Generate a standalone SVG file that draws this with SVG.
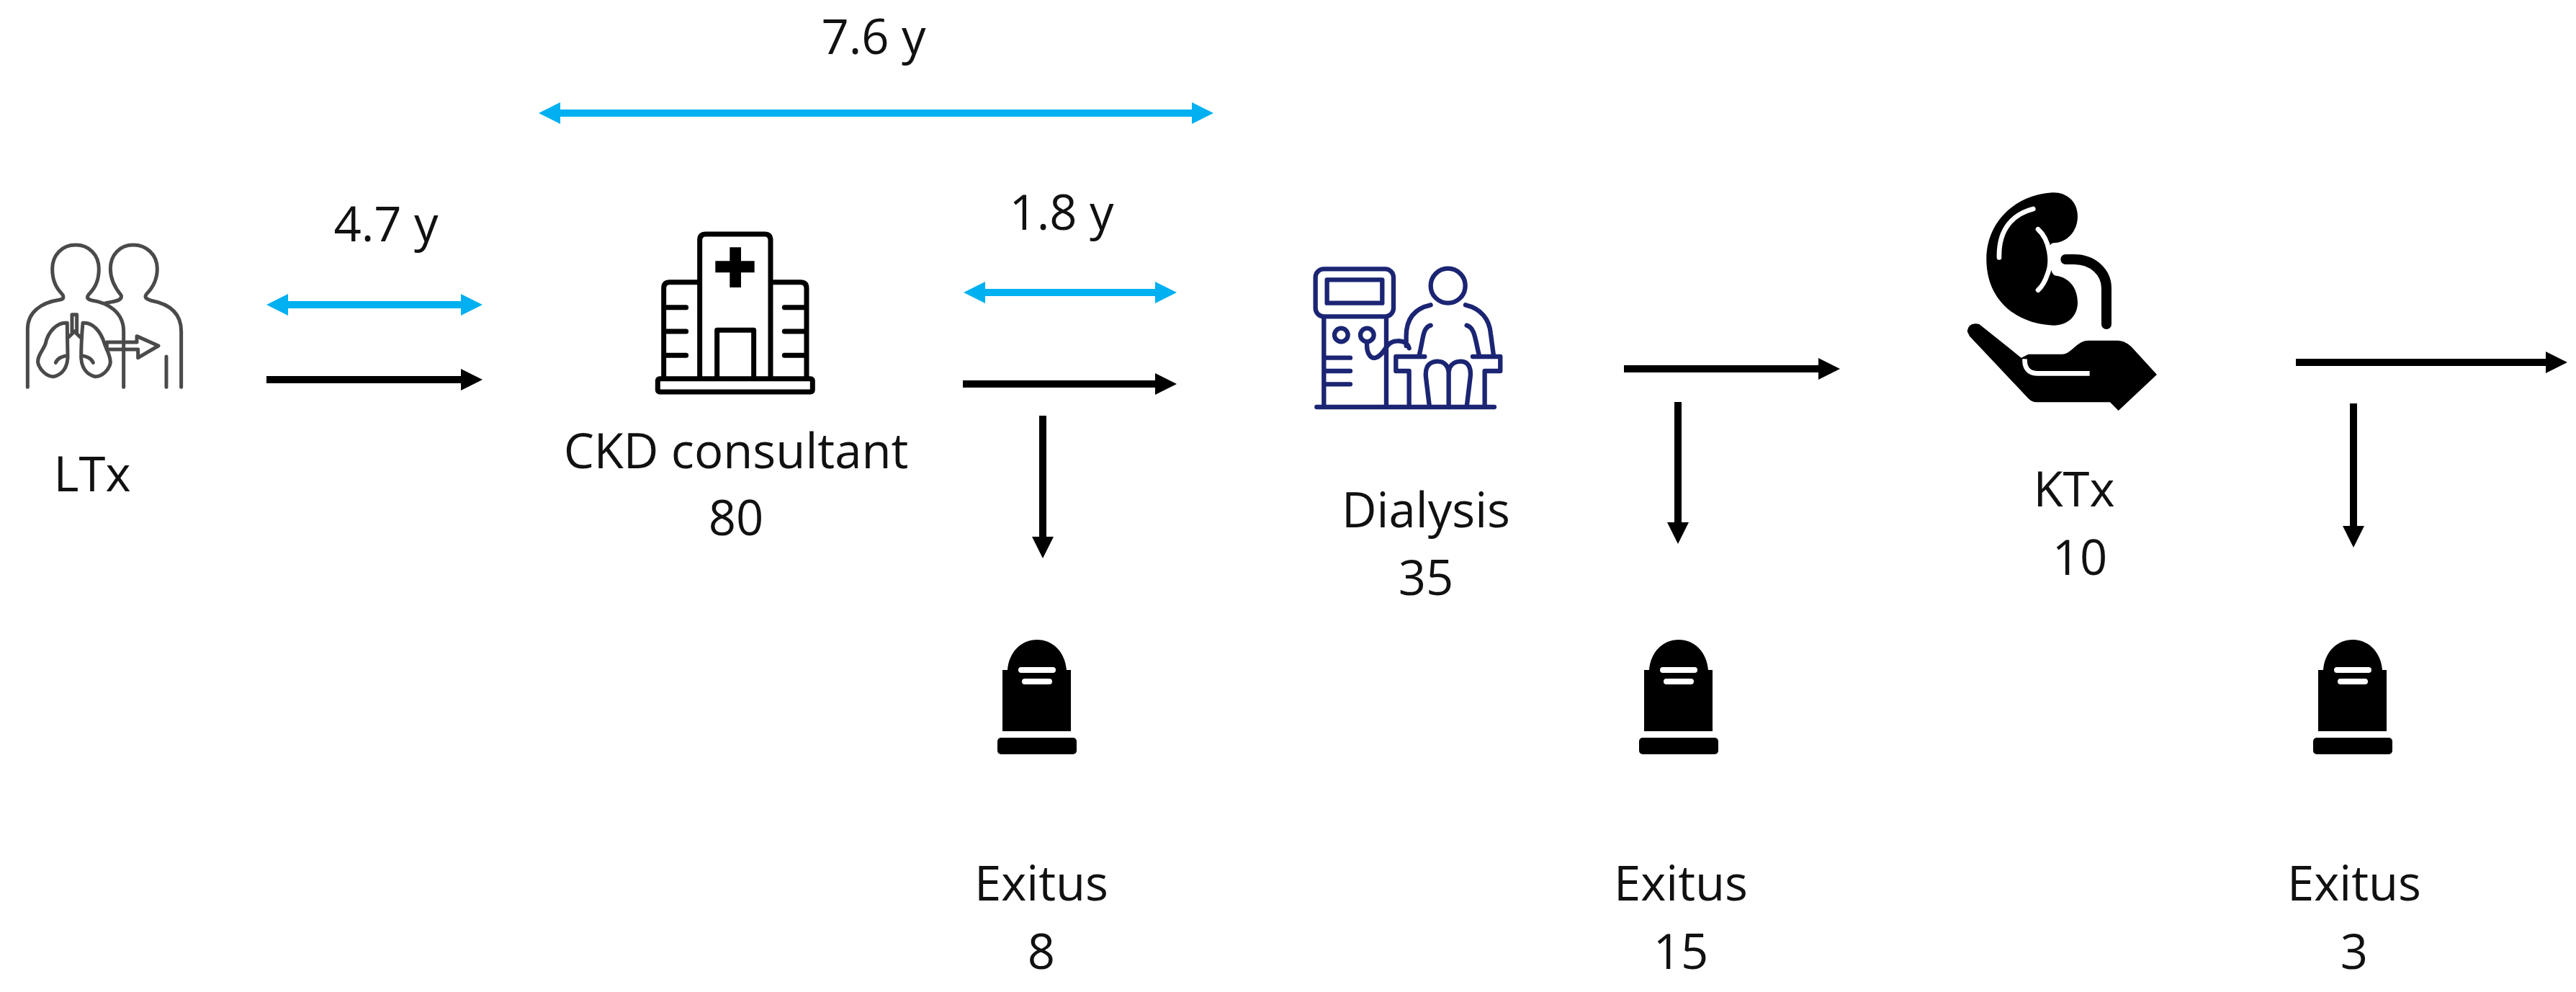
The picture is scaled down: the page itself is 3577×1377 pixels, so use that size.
<svg xmlns="http://www.w3.org/2000/svg" width="3577" height="1377" viewBox="0 0 3577 1377">
<style>
text{font-family:"Open Sans","Noto Sans",sans-serif;font-size:67px;fill:#111;text-anchor:middle}
.blk{stroke:#000;stroke-width:10;fill:none}
.blu{stroke:#00b0f0;stroke-width:10;fill:none}
.o1{fill:none;stroke:#4a4a4a;stroke-width:15;stroke-linecap:round;stroke-linejoin:round}
.o2{fill:none;stroke:#000;stroke-width:21;stroke-linejoin:round;stroke-linecap:round}
.o3{fill:none;stroke:#1b2573;stroke-width:19;stroke-linecap:round;stroke-linejoin:round}
.w{fill:none;stroke:#fff;stroke-linecap:round}
</style>
<defs>
<marker id="hb" markerUnits="userSpaceOnUse" markerWidth="32" markerHeight="32" refX="2" refY="15" orient="auto"><path d="M0 0L30 15L0 30Z" fill="#000"/></marker>
<marker id="hc" markerUnits="userSpaceOnUse" markerWidth="32" markerHeight="32" refX="2" refY="15" orient="auto-start-reverse"><path d="M0 0L30 15L0 30Z" fill="#00b0f0"/></marker>
<g id="tomb"><path d="M1399 930C1401 905 1418 888 1440 888C1462 888 1479 905 1481 930H1487V1015H1392V930Z" fill="#000"/><rect x="1385" y="1024" width="110" height="23" rx="5" fill="#000"/><path class="w" d="M1418 930H1462" stroke-width="8"/><path class="w" d="M1423 946H1457" stroke-width="8"/></g>
</defs>
<rect width="3577" height="1377" fill="#fff"/>
<g id="connectors">
<path class="blu" d="M776 157H1657" marker-start="url(#hc)" marker-end="url(#hc)"/>
<path class="blu" d="M398 423H642" marker-start="url(#hc)" marker-end="url(#hc)"/>
<path class="blu" d="M1366 406H1606" marker-start="url(#hc)" marker-end="url(#hc)"/>
<path class="blk" d="M370 527H642" marker-end="url(#hb)"/>
<path class="blk" d="M1337 533H1606" marker-end="url(#hb)"/>
<path class="blk" d="M2255 512H2527" marker-end="url(#hb)"/>
<path class="blk" d="M3188 503H3537" marker-end="url(#hb)"/>
<path class="blk" d="M1448 577V747" marker-end="url(#hb)"/>
<path class="blk" d="M2330 558V727" marker-end="url(#hb)"/>
<path class="blk" d="M3268 560V732" marker-end="url(#hb)"/>
</g>
<g id="ltx">
<g transform="translate(0 300) scale(.3333)">
<path class="o1" d="M115 712V470C115 400 170 360 250 348C270 345 265 330 255 320C230 295 218 260 218 220C218 160 260 120 315 120C370 120 412 160 412 220C412 260 400 295 375 320C360 335 360 345 380 350C450 360 515 400 515 480V712"/>
<path class="o1" d="M440 362C470 355 510 355 505 330C480 300 460 265 460 220C460 160 500 120 555 120C610 120 655 160 655 220C655 265 635 300 610 325C600 340 610 345 630 352C700 365 755 400 755 480V712M693 585V712"/>
<path class="o1" d="M280 445C240 440 200 480 190 530C180 560 155 580 158 610C165 640 195 670 225 668C260 660 280 630 282 590C282 560 280 500 280 445ZM232 610C240 590 260 585 280 580M345 445C385 440 420 480 435 530C445 560 460 580 460 610C455 640 425 670 395 668C360 660 340 630 338 590C338 560 340 500 345 445ZM388 610C380 590 360 585 340 580M300 490V410H320V490M285 505L310 480L335 505"/>
<path class="o1" d="M445 525H570V500L660 540L575 590V555H445Z"/>
</g>
<text x="128" y="682">LTx</text>
</g>
<g id="ckd">
<g transform="translate(880 300) scale(.3333)">
<path class="o2" d="M275 675V100Q275 75 300 75H545Q570 75 570 100V675M275 275H150Q125 275 125 300V675M570 275H695Q720 275 720 300V675M347 675V475H500V675M135 380H218M135 480H218M135 580H218M628 380H710M628 480H710M628 580H710"/>
<rect class="o2" x="100" y="677" width="645" height="55" rx="8"/>
<path d="M400 130H447V187H503V235H447V297H400V235H340V187H400Z" fill="#000"/>
</g>
<text x="1022" y="650">CKD consultant</text>
<text x="1022" y="743">80</text>
</g>
<g id="dialysis">
<g transform="translate(1800 340) scale(.3333)">
<path class="o3" d="M85 675H825M115 300V675M375 300V675M125 470H225M125 525H225M125 580H225M470 530V675M785 530V675M415 465V525H470M850 465V525H785M415 465H535M735 465H850"/>
<rect class="o3" x="80" y="100" width="325" height="198" rx="35"/>
<rect class="o3" x="128" y="145" width="230" height="97"/>
<circle class="o3" cx="187" cy="375" r="28"/><circle class="o3" cx="295" cy="375" r="28"/>
<circle class="o3" cx="632" cy="170" r="72"/>
<path class="o3" d="M295 405C290 450 310 475 330 470C370 460 370 400 420 400C445 398 465 410 470 430M458 420V380C458 310 490 265 560 250M705 250C770 265 805 310 810 370L822 460M560 335C525 345 530 390 512 460M710 335C745 345 745 395 762 460M555 675L540 550C535 500 560 485 590 485C620 485 635 510 635 530C635 510 650 485 685 485C715 485 730 510 725 550L710 675M635 530V675"/>
</g>
<text x="1980" y="732">Dialysis</text>
<text x="1980" y="826">35</text>
</g>
<g id="ktx">
<g transform="translate(2700 250) scale(.3333)">
<path d="M450 52C510 50 555 90 555 150C555 215 510 260 455 262C440 262 430 285 435 320C440 360 445 395 465 398C520 405 555 450 555 510C555 565 515 605 455 605C300 600 175 500 175 330C175 170 300 60 450 52Z" fill="#000"/>
<path class="w" stroke-width="20" d="M370 120C290 140 225 200 228 322M390 205C440 250 450 340 430 390C420 420 405 445 390 458"/>
<path d="M505 330H540C620 330 675 385 675 450V600" fill="none" stroke="#000" stroke-width="42" stroke-linecap="round"/>
<path d="M95 630Q100 590 145 600L320 740L350 725H490C530 725 550 668 600 668H720C745 668 765 680 780 695L885 810L725 960L690 925H385C370 925 360 920 350 910L105 650Z" fill="#000"/>
<path d="M605 805H385C350 805 332 780 335 745" fill="none" stroke="#fff" stroke-width="20"/>
</g>
<text x="2880" y="703">KTx</text>
<text x="2888" y="798">10</text>
</g>
<g id="exit1"><use href="#tomb"/><text x="1446" y="1250">Exitus</text><text x="1446" y="1345">8</text></g>
<g id="exit2"><use href="#tomb" x="891"/><text x="2334" y="1250">Exitus</text><text x="2334" y="1345">15</text></g>
<g id="exit3"><use href="#tomb" x="1827"/><text x="3269" y="1250">Exitus</text><text x="3269" y="1345">3</text></g>
<g id="times">
<text x="1213" y="75">7.6 y</text>
<text x="536" y="335">4.7 y</text>
<text x="1474" y="319">1.8 y</text>
</g>
</svg>
